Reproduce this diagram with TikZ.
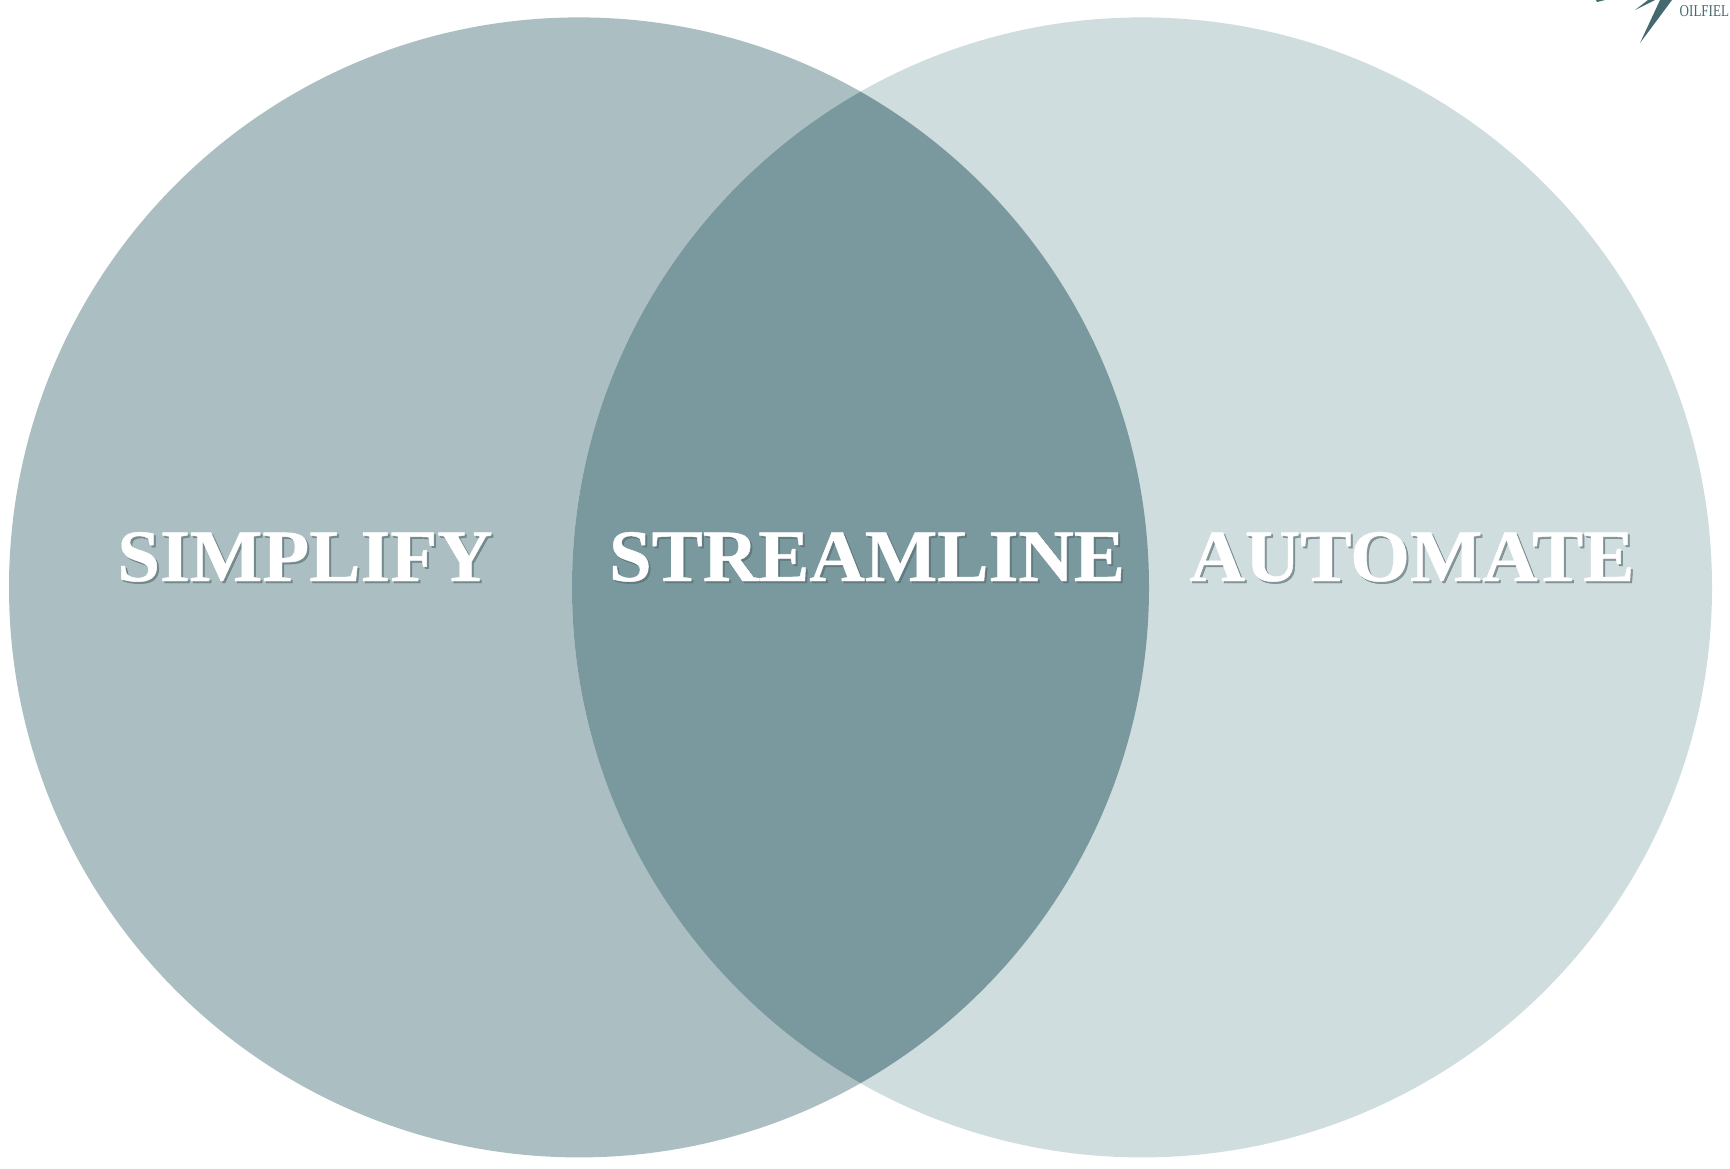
\documentclass[tikz,border=0pt]{standalone}
\usepackage{fontspec}
\newfontfamily\logofont[FakeStretch=0.79]{Liberation Serif}
\newfontfamily\wordfont[BoldFeatures={FakeStretch=1.04,FakeBold=0.6}]{Liberation Serif}
\usetikzlibrary{positioning, backgrounds}
\definecolor{vennleft}{HTML}{ABBEC2}
\definecolor{vennright}{HTML}{D0DDDE}
\definecolor{vennmid}{HTML}{7A999E}
\definecolor{logoteal}{HTML}{44696E}
\definecolor{textshade}{HTML}{556B70}
\tikzset{
	venn/.style={circle, minimum size=11.40cm, inner sep=0pt},
	word/.style={text=white, anchor=base, inner sep=0pt,
		font=\fontsize{21}{24}\selectfont\wordfont\bfseries},
	wordshade/.style={word, text=textshade, opacity=0.6},
}

\begin{document}
\begin{tikzpicture}

\useasboundingbox (0,0) rectangle (17.30,11.68);

\node [venn, fill=vennleft] at (5.79,5.806) (simplify) {};
\node [venn, fill=vennright] at (11.42,5.806) (automate) {};

% overlap of the two circles
\begin{scope}
	\clip (5.79,5.806) circle (5.70);
	\fill [vennmid] (11.42,5.806) circle (5.70);
\end{scope}

\node [wordshade] at (3.07,5.85) (s shade) {SIMPLIFY};
\node [wordshade] at (8.69,5.85) (m shade) {STREAMLINE};
\node [wordshade] at (14.14,5.85) (a shade) {AUTOMATE};

\node [word] at (3.05,5.87) (s word) {SIMPLIFY};
\node [word] at (8.67,5.87) (m word) {STREAMLINE};
\node [word] at (14.12,5.87) (a word) {AUTOMATE};

% logo cut by the page edge
\begin{scope}
	\clip (0,0) rectangle (17.30,11.68);
	\fill [logoteal] (16.40,11.25) -- (16.60,11.68) -- (16.72,11.68) -- cycle;
	\fill [logoteal] (16.35,11.58) -- (16.48,11.68) -- (16.55,11.68) -- cycle;
	\fill [logoteal] (15.97,11.66) -- (15.96,11.68) -- (16.05,11.68) -- cycle;
	\node [anchor=base west, inner sep=0pt, text=logoteal,
		font=\fontsize{4.7}{6}\selectfont\logofont] at (16.79,11.51) (logo) {OILFIEL};
\end{scope}

\end{tikzpicture}
\end{document}
